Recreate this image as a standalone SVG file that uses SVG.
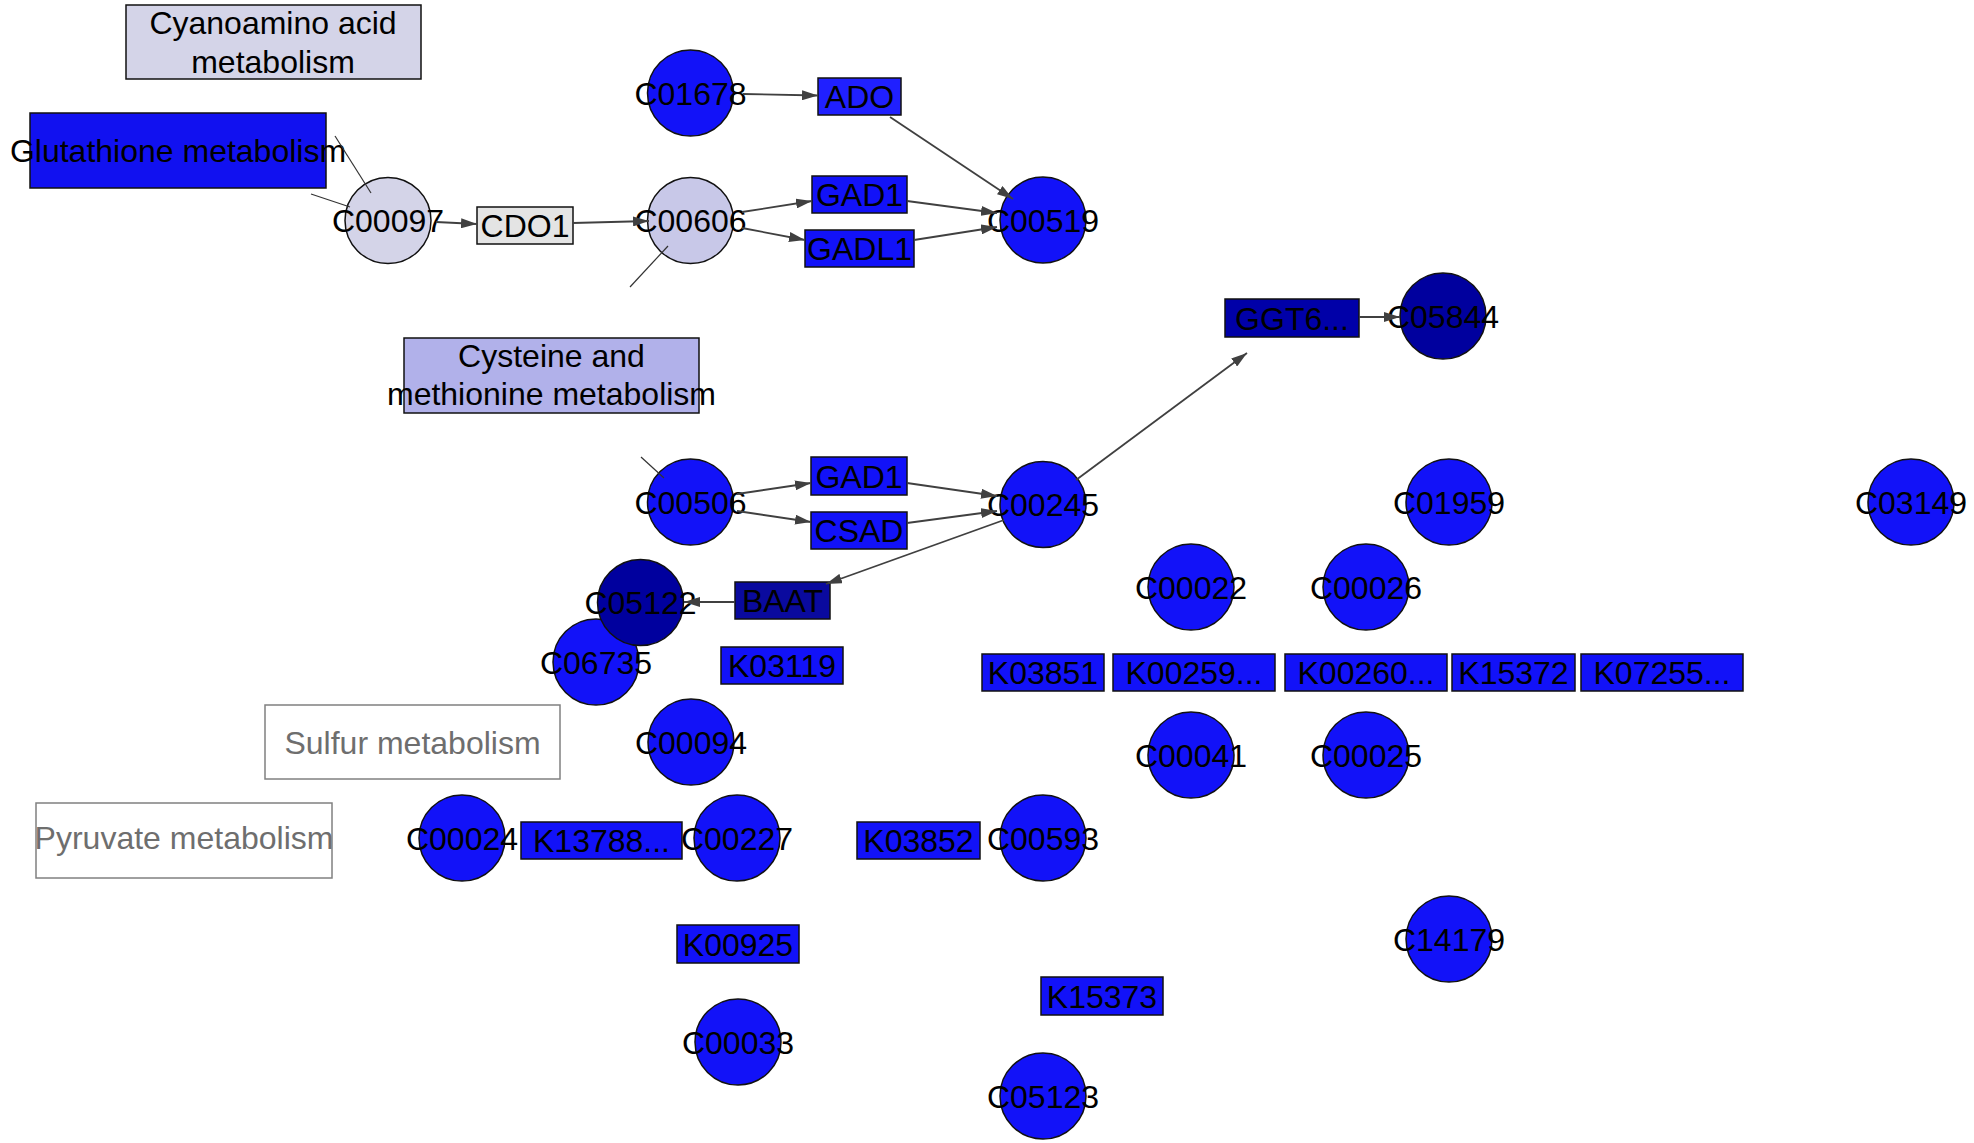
<svg xmlns="http://www.w3.org/2000/svg" width="1974" height="1143" viewBox="0 0 1974 1143">
<defs>
<style>
text{font-family:"Liberation Sans",Arial,sans-serif;font-size:32px;fill:#000;text-anchor:middle}
.c{stroke:#111;stroke-width:1.5}
.b{stroke:#111;stroke-width:1.5}
.blue{fill:#1212f8}
.dark{fill:#00009e}
.pw{fill:#fff;stroke:#808080;stroke-width:1.5}
.pt{fill:#6e6e6e}
.e{stroke:#404040;stroke-width:1.8;fill:none}
.ea{stroke:#404040;stroke-width:1.8;fill:none;marker-end:url(#arr)}
.el{stroke:#333;stroke-width:1.2;fill:none}
</style>
<marker id="arr" markerUnits="userSpaceOnUse" markerWidth="17" markerHeight="10" refX="16" refY="5" orient="auto"><path d="M0,0 L16,5 L0,10 z" fill="#404040"/></marker>
</defs>
<rect width="1974" height="1143" fill="#fff"/>
<g id="nodes">
<g id="n-cyano"><rect class="b" x="126" y="5" width="295" height="74" fill="#d4d4e8"/><text x="273" y="33.5">Cyanoamino acid</text><text x="273" y="72.5">metabolism</text></g>
<g id="n-glut"><rect class="b" x="30" y="113" width="296" height="75" fill="#1111f0"/><text x="178" y="162">Glutathione metabolism</text></g>
<g id="n-C00097"><circle class="c" cx="388" cy="220.5" r="43" fill="#d4d4e8"/><text x="388" y="232">C00097</text></g>
<g id="n-CDO1"><rect class="b" x="477" y="207" width="96" height="37" fill="#e4e4e4"/><text x="525" y="236.5">CDO1</text></g>
<g id="n-C01678"><circle class="c blue" cx="690.5" cy="93" r="43"/><text x="690.5" y="104.5">C01678</text></g>
<g id="n-C00606"><circle class="c" cx="690.5" cy="220.5" r="43" fill="#c8c8e8"/><text x="690.5" y="232">C00606</text></g>
<g id="n-ADO"><rect class="b" x="818" y="78" width="83" height="37" fill="#2020ff"/><text x="859.5" y="107.5">ADO</text></g>
<g id="n-GAD1a"><rect class="b blue" x="812" y="176" width="95" height="37"/><text x="859.5" y="205.5">GAD1</text></g>
<g id="n-GADL1"><rect class="b blue" x="805" y="230" width="109" height="37"/><text x="859.5" y="260">GADL1</text></g>
<g id="n-C00519"><circle class="c blue" cx="1043" cy="220" r="43"/><text x="1043" y="231.5">C00519</text></g>
<g id="n-cys"><rect class="b" x="404" y="338" width="295" height="75" fill="#b1b1ea"/><text x="551.5" y="366.5">Cysteine and</text><text x="551.5" y="405">methionine metabolism</text></g>
<g id="n-GGT6"><rect class="b" x="1225" y="299" width="134" height="38" fill="#0000a8"/><text x="1292" y="330">GGT6...</text></g>
<g id="n-C05844"><circle class="c dark" cx="1443" cy="316" r="43"/><text x="1443" y="327.5">C05844</text></g>
<g id="n-C00506"><circle class="c blue" cx="690.5" cy="502" r="43"/><text x="690.5" y="513.5">C00506</text></g>
<g id="n-GAD1b"><rect class="b blue" x="811" y="457" width="96" height="38"/><text x="859" y="487.5">GAD1</text></g>
<g id="n-CSAD"><rect class="b blue" x="811" y="512" width="96" height="37"/><text x="859" y="542">CSAD</text></g>
<g id="n-C00245"><circle class="c blue" cx="1043" cy="504.5" r="43"/><text x="1043" y="516">C00245</text></g>
<g id="n-C01959"><circle class="c blue" cx="1449" cy="502" r="43"/><text x="1449" y="513.5">C01959</text></g>
<g id="n-C03149"><circle class="c blue" cx="1911" cy="502" r="43"/><text x="1911" y="513.5">C03149</text></g>
<g id="n-C00022"><circle class="c blue" cx="1191" cy="587" r="43"/><text x="1191" y="598.5">C00022</text></g>
<g id="n-C00026"><circle class="c blue" cx="1366" cy="587" r="43"/><text x="1366" y="598.5">C00026</text></g>
<g id="n-BAAT"><rect class="b" x="735" y="582" width="95" height="37" fill="#0a0a9e"/><text x="782.5" y="612">BAAT</text></g>
<g id="n-C06735"><circle class="c blue" cx="596" cy="662" r="43"/><text x="596" y="673.5">C06735</text></g>
<g id="n-C05122"><circle class="c dark" cx="640.5" cy="602.5" r="43"/><text x="640.5" y="614">C05122</text></g>
<g id="n-K03119"><rect class="b blue" x="721" y="647" width="122" height="37"/><text x="782" y="677">K03119</text></g>
<g id="n-K03851"><rect class="b blue" x="982" y="654" width="122" height="37"/><text x="1043" y="684">K03851</text></g>
<g id="n-K00259"><rect class="b blue" x="1113" y="654" width="162" height="37"/><text x="1194" y="684">K00259...</text></g>
<g id="n-K00260"><rect class="b blue" x="1285" y="654" width="162" height="37"/><text x="1366" y="684">K00260...</text></g>
<g id="n-K15372"><rect class="b blue" x="1452" y="654" width="123" height="37"/><text x="1513.5" y="684">K15372</text></g>
<g id="n-K07255"><rect class="b blue" x="1581" y="654" width="162" height="37"/><text x="1662" y="684">K07255...</text></g>
<g id="n-sulfur"><rect class="pw" x="265" y="705" width="295" height="74"/><text class="pt" x="412.5" y="754">Sulfur metabolism</text></g>
<g id="n-C00094"><circle class="c blue" cx="691" cy="742" r="43"/><text x="691" y="753.5">C00094</text></g>
<g id="n-C00041"><circle class="c blue" cx="1191" cy="755" r="43"/><text x="1191" y="766.5">C00041</text></g>
<g id="n-C00025"><circle class="c blue" cx="1366" cy="755" r="43"/><text x="1366" y="766.5">C00025</text></g>
<g id="n-pyruvate"><rect class="pw" x="36" y="803" width="296" height="75"/><text class="pt" x="184" y="848.5">Pyruvate metabolism</text></g>
<g id="n-C00024"><circle class="c blue" cx="462" cy="838" r="43"/><text x="462" y="849.5">C00024</text></g>
<g id="n-K13788"><rect class="b blue" x="521" y="822" width="161" height="37"/><text x="601.5" y="852">K13788...</text></g>
<g id="n-C00227"><circle class="c blue" cx="737" cy="838" r="43"/><text x="737" y="849.5">C00227</text></g>
<g id="n-K03852"><rect class="b blue" x="857" y="822" width="123" height="37"/><text x="918.5" y="852">K03852</text></g>
<g id="n-C00593"><circle class="c blue" cx="1043" cy="838" r="43"/><text x="1043" y="849.5">C00593</text></g>
<g id="n-K00925"><rect class="b blue" x="677" y="925" width="122" height="38"/><text x="738" y="955.5">K00925</text></g>
<g id="n-C14179"><circle class="c blue" cx="1449" cy="939" r="43"/><text x="1449" y="950.5">C14179</text></g>
<g id="n-K15373"><rect class="b blue" x="1041" y="977" width="122" height="38"/><text x="1102" y="1007.5">K15373</text></g>
<g id="n-C00033"><circle class="c blue" cx="738" cy="1042" r="43"/><text x="738" y="1053.5">C00033</text></g>
<g id="n-C05123"><circle class="c blue" cx="1043" cy="1096" r="43"/><text x="1043" y="1107.5">C05123</text></g>
</g>
<g id="connectors">
<line class="el" x1="335" y1="136" x2="371" y2="193"/>
<line class="el" x1="311" y1="194" x2="350" y2="207"/>
<line class="ea" x1="436" y1="222" x2="477" y2="224"/>
<line class="ea" x1="573" y1="223" x2="649" y2="221"/>
<line class="el" x1="668" y1="246" x2="630" y2="287"/>
<line class="ea" x1="743" y1="94" x2="818" y2="95.5"/>
<line class="ea" x1="890" y1="117" x2="1013" y2="199"/>
<line class="ea" x1="742" y1="212" x2="812" y2="201"/>
<line class="ea" x1="742" y1="228" x2="805" y2="240"/>
<line class="ea" x1="907" y1="201" x2="997" y2="213"/>
<line class="ea" x1="914" y1="240" x2="997" y2="227"/>
<line class="ea" x1="1359" y1="317" x2="1400" y2="317"/>
<line class="ea" x1="1076" y1="480" x2="1247" y2="353"/>
<line class="el" x1="641" y1="457" x2="664" y2="478"/>
<line class="ea" x1="737" y1="494" x2="811" y2="483"/>
<line class="ea" x1="737" y1="511" x2="811" y2="522"/>
<line class="ea" x1="907" y1="483" x2="997" y2="496"/>
<line class="ea" x1="907" y1="523" x2="997" y2="511"/>
<line class="ea" x1="1004" y1="520" x2="826" y2="584"/>
<line class="ea" x1="735" y1="602" x2="684" y2="602"/>
</g>
</svg>
